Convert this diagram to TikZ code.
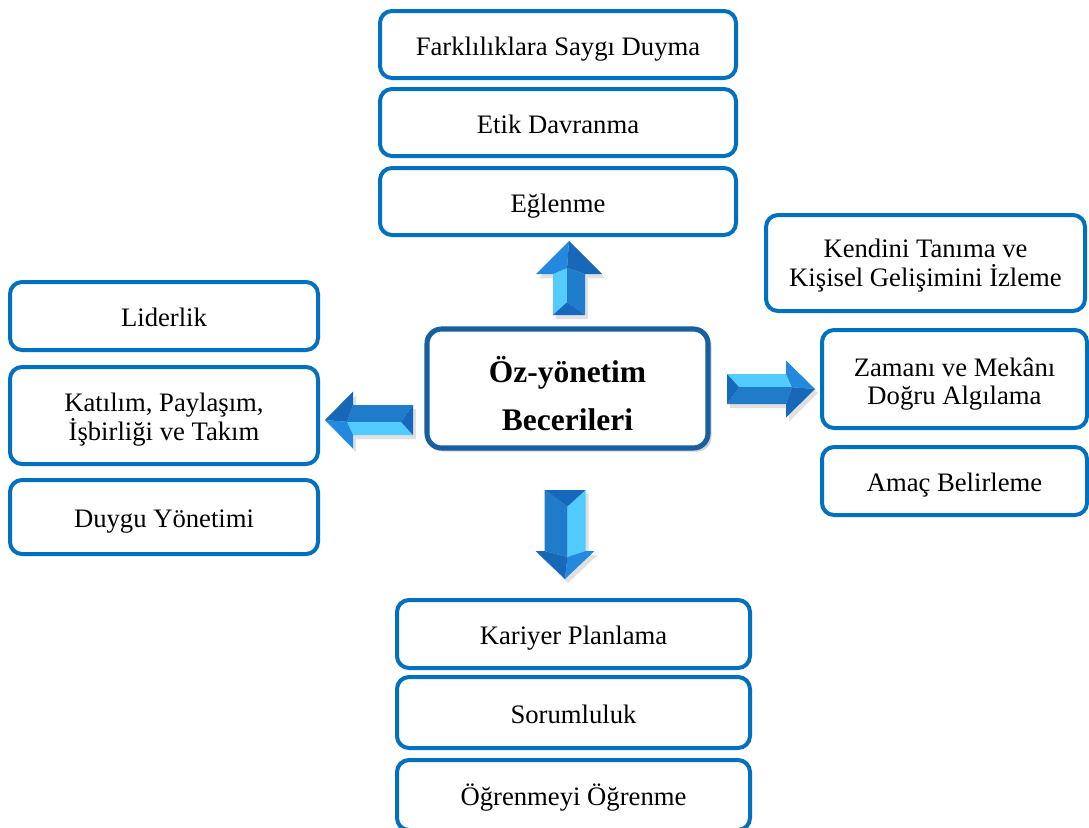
\documentclass[tikz,border=0pt]{standalone}
\usepackage{fontspec}
\setmainfont{Liberation Serif}
\definecolor{boxblue}{HTML}{0070C0}
\definecolor{centerblue}{HTML}{175F9E}
\definecolor{facelight}{HTML}{52CBFF}
\definecolor{faceright}{HTML}{1E7CCB}
\definecolor{headleft}{HTML}{2389DF}
\definecolor{headright}{HTML}{1868BA}
\definecolor{bevelcol}{HTML}{1668BE}
\newcommand\lift[1]{\rule{0pt}{#1}}
\newcommand\blockarrow[7]{%
  \pgfmathsetmacro\aL{#4}\pgfmathsetmacro\ahl{#5}%
  \pgfmathsetmacro\ahw{#6}\pgfmathsetmacro\asw{#7}%
  \pgfmathsetmacro\axr{-0.12*#7}\pgfmathsetmacro\abev{0.8*#7}%
  \begin{scope}[shift={(#1+3,-#2-4)}, rotate=#3]
    \fill[black, opacity=0.12] (0,0) -- (\ahw,-\ahl) -- (\asw,-\ahl) -- (\asw,-\aL)
      -- (-\asw,-\aL) -- (-\asw,-\ahl) -- (-\ahw,-\ahl) -- cycle;
  \end{scope}
  \begin{scope}[shift={(#1,-#2)}, rotate=#3]
    \fill[facelight] (-\asw,-\ahl) -- (\axr,-\ahl+6) -- (\axr,-\aL+\abev) -- (-\asw,-\aL) -- cycle;
    \fill[faceright] (\axr,-\ahl+6) -- (\asw,-\ahl) -- (\asw,-\aL) -- (\axr,-\aL+\abev) -- cycle;
    \fill[bevelcol] (-\asw,-\aL) -- (\axr,-\aL+\abev) -- (\asw,-\aL) -- cycle;
    \fill[headleft] (0,0) -- (-\ahw,-\ahl) -- (-\asw,-\ahl) -- (\axr,-\ahl+6) -- cycle;
    \fill[headright] (0,0) -- (\axr,-\ahl+6) -- (\asw,-\ahl) -- (\ahw,-\ahl) -- cycle;
  \end{scope}}
\begin{document}
\begin{tikzpicture}[x=0.75pt,y=0.75pt,
  box/.style={draw=boxblue, line width=3pt, rounded corners=9pt, fill=white,
    align=center, inner sep=0pt, font=\fontsize{20}{21.75}\selectfont},
  one/.style={text height=15.8pt, text depth=0pt},
  centerbox/.style={draw=centerblue, line width=3.8pt, rounded corners=11pt, fill=white,
    align=center, inner sep=0pt, font=\fontsize{23.6}{36}\selectfont\bfseries}]
\useasboundingbox (0,0) rectangle (1089,-828);
\clip (0,0) rectangle (1089,-828);
% top column
\node[box, one, minimum width=267pt, minimum height=50.25pt] (t1) at (558,-44.5) {Farklılıklara Saygı Duyma};
\node[box, one, minimum width=267pt, minimum height=50.25pt] (t2) at (558,-122.5) {Etik Davranma};
\node[box, one, minimum width=267pt, minimum height=50.25pt] (t3) at (558,-201.5) {Eğlenme};
% left column
\node[box, one, minimum width=231pt, minimum height=51pt] (l1) at (164,-316) {Liderlik};
\node[box, minimum width=231pt, minimum height=72.75pt] (l2) at (164,-415.5) {\lift{19.7pt}Katılım, Paylaşım,\\İşbirliği ve Takım};
\node[box, one, minimum width=231pt, minimum height=55.5pt] (l3) at (164,-517) {Duygu Yönetimi};
% right column
\node[box, minimum width=239.25pt, minimum height=72pt] (r1) at (925.5,-263) {\lift{18.5pt}Kendini Tanıma ve\\Kişisel Gelişimini İzleme};
\node[box, minimum width=198.75pt, minimum height=73.5pt, font=\fontsize{20}{20.5}\selectfont] (r2) at (954.5,-379) {\lift{21.5pt}Zamanı ve Mekânı\\Doğru Algılama};
\node[box, one, minimum width=198.75pt, minimum height=51pt] (r3) at (954.5,-481) {Amaç Belirleme};
% bottom column
\node[box, one, minimum width=264.75pt, minimum height=51pt] (b1) at (573.5,-634) {Kariyer Planlama};
\node[box, one, minimum width=264.75pt, minimum height=53.25pt] (b2) at (573.5,-712.5) {Sorumluluk};
\node[box, one, minimum width=264.75pt, minimum height=52.5pt] (b3) at (573.5,-795) {Öğrenmeyi Öğrenme};
% center
\fill[black, opacity=0.18, rounded corners=11pt] (427.5,-331) rectangle (711.5,-451.5);
\node[centerbox, minimum width=210.75pt, minimum height=89.25pt] (c) at (567.5,-388.5) {\lift{27.5pt}Öz-yönetim\\Becerileri};
% block arrows
\blockarrow{569}{241}{0}{74}{33}{33}{16}
\blockarrow{565}{579}{180}{89}{28}{29.5}{20.5}
\blockarrow{325}{420}{90}{88}{28}{28.5}{15}
\blockarrow{815}{389}{-90}{88}{29}{28.5}{15}
\end{tikzpicture}
\end{document}
